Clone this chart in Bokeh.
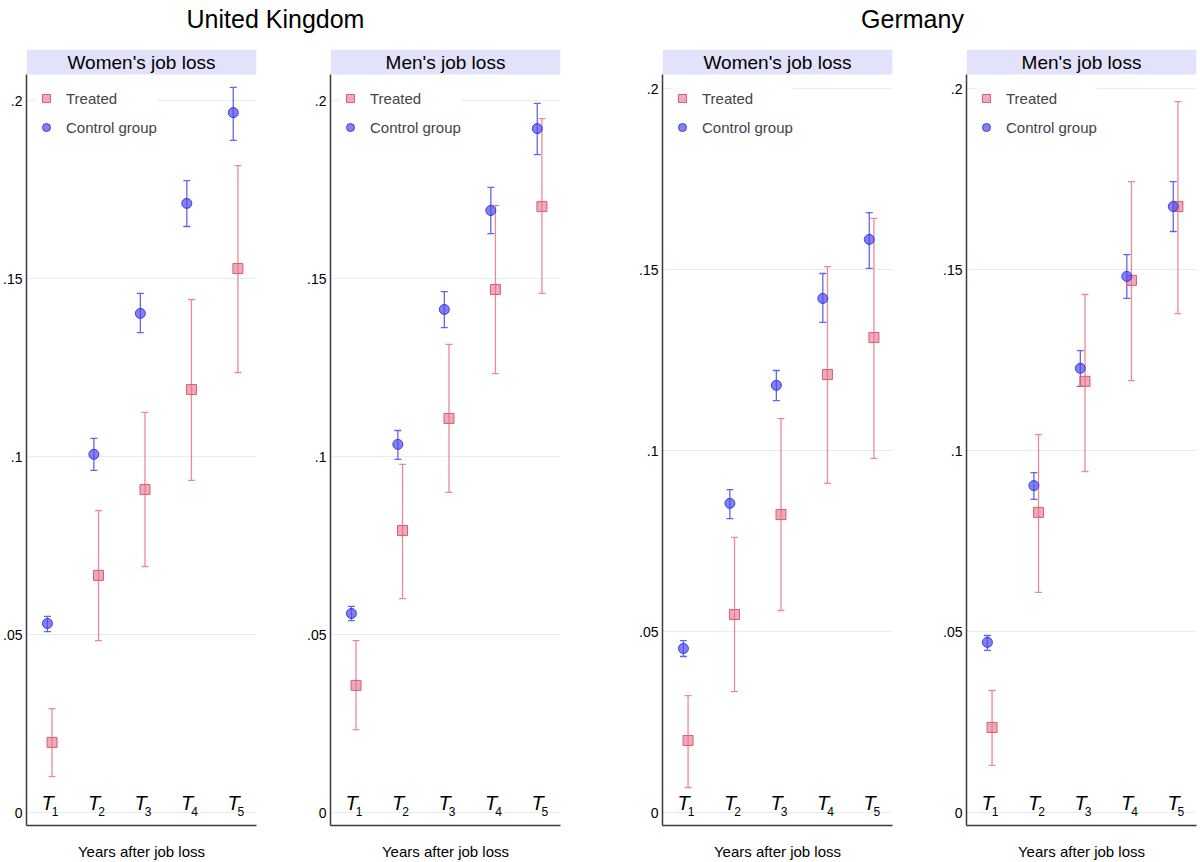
from bokeh.plotting import figure
from bokeh.models import (ColumnDataSource, Whisker, TeeHead, Legend, LegendItem,
                          FixedTicker, Range1d, CustomJSTickFormatter)
from bokeh.layouts import row, column
from bokeh.embed import file_html
from bokeh.resources import INLINE
from bokeh.core.properties import value

# ---------------- data ----------------
countries = ["United Kingdom", "Germany"]
panel_titles = ["Women's job loss", "Men's job loss"]
periods = [1, 2, 3, 4, 5]
period_subscripts = ["1", "2", "3", "4", "5"]
y_ticks = [0, 0.05, 0.1, 0.15, 0.2]
x_label = "Years after job loss"
legend_labels = ["Treated", "Control group"]

# United Kingdom - women's job loss
uk_w_ctrl = [0.0531, 0.1006, 0.1402, 0.1711, 0.1966]
uk_w_ctrl_lo = [0.0508, 0.0961, 0.1348, 0.1646, 0.1888]
uk_w_ctrl_hi = [0.0551, 0.1051, 0.1458, 0.1775, 0.2037]
uk_w_trt = [0.0197, 0.0666, 0.0907, 0.1188, 0.1528]
uk_w_trt_lo = [0.0101, 0.0483, 0.0691, 0.0933, 0.1236]
uk_w_trt_hi = [0.0292, 0.0848, 0.1124, 0.1441, 0.1817]

# United Kingdom - men's job loss
uk_m_ctrl = [0.0559, 0.1034, 0.1413, 0.1691, 0.1921]
uk_m_ctrl_lo = [0.0539, 0.0992, 0.1362, 0.1626, 0.1848]
uk_m_ctrl_hi = [0.0579, 0.1073, 0.1463, 0.1756, 0.1992]
uk_m_trt = [0.0357, 0.0792, 0.1107, 0.1469, 0.1702]
uk_m_trt_lo = [0.0233, 0.0601, 0.0899, 0.1233, 0.1458]
uk_m_trt_hi = [0.0483, 0.0978, 0.1315, 0.1705, 0.1949]

# Germany - women's job loss
de_w_ctrl = [0.0453, 0.0854, 0.1180, 0.1420, 0.1583]
de_w_ctrl_lo = [0.0431, 0.0812, 0.1138, 0.1354, 0.1503]
de_w_ctrl_hi = [0.0475, 0.0892, 0.1221, 0.1489, 0.1657]
de_w_trt = [0.0199, 0.0547, 0.0823, 0.1210, 0.1312]
de_w_trt_lo = [0.0069, 0.0334, 0.0558, 0.0909, 0.0978]
de_w_trt_hi = [0.0323, 0.0760, 0.1088, 0.1508, 0.1641]

# Germany - men's job loss
de_m_ctrl = [0.0470, 0.0903, 0.1227, 0.1481, 0.1674]
de_m_ctrl_lo = [0.0448, 0.0865, 0.1177, 0.1420, 0.1605]
de_m_ctrl_hi = [0.0489, 0.0939, 0.1276, 0.1541, 0.1743]
de_m_trt = [0.0235, 0.0829, 0.1191, 0.1470, 0.1674]
de_m_trt_lo = [0.0130, 0.0608, 0.0942, 0.1193, 0.1378]
de_m_trt_hi = [0.0337, 0.1044, 0.1431, 0.1743, 0.1964]

# ---------------- style ----------------
FONT = "Liberation Sans"
CTRL_FILL = "#4b4bec"
CTRL_LINE = "#3c3ce0"
CTRL_BAR = "#6464f0"
TRT_FILL = "#e8708a"
TRT_LINE = "#d55f75"
TRT_BAR = "#e98a9a"
STRIP = "#e2e2fa"
GRID = "#e3efef"
AXIS = "#3a3a3a"

FRAME_H = 776
STRIP_H = 25
BOTTOM = 35
ZERO_PX = 13        # pixels from frame bottom to y = 0
OFFSET = 0.05       # horizontal dodge between series
T_LIFT_PX = 9.5     # centre of the "T" above the zero line
SUB_LIFT_PX = 1.0   # centre of the subscript above the zero line

tick_fmt_code = """
if (tick == 0) return "0";
let s = tick.toFixed(2);
s = s.replace(/0+$/, "");
if (s.startsWith("0")) s = s.slice(1);
return s;
"""


def make_panel(title, ctrl, ctrl_lo, ctrl_hi, trt, trt_lo, trt_hi,
               px_per_unit, frame_w, left_b, right_b):
    y0 = -ZERO_PX / px_per_unit
    y1 = y0 + FRAME_H / px_per_unit
    strip_bottom = y1 - STRIP_H / px_per_unit
    x0, x1 = 0.5, 5.45

    p = figure(width=left_b + frame_w + right_b, height=FRAME_H + BOTTOM,
               frame_width=frame_w, frame_height=FRAME_H,
               x_range=Range1d(x0, x1), y_range=Range1d(y0, y1),
               min_border_left=left_b, min_border_right=right_b,
               min_border_top=0, min_border_bottom=BOTTOM,
               output_backend="svg", toolbar_location=None, tools="")
    p.outline_line_color = None
    p.background_fill_color = "white"
    p.border_fill_color = "white"

    # grid
    p.xgrid.grid_line_color = None
    p.ygrid.ticker = FixedTicker(ticks=y_ticks)
    p.ygrid.grid_line_color = GRID
    p.ygrid.grid_line_width = 1

    # y axis
    ya = p.yaxis[0]
    ya.ticker = FixedTicker(ticks=y_ticks)
    ya.formatter = CustomJSTickFormatter(code=tick_fmt_code)
    ya.major_tick_out = 0
    ya.major_tick_in = 0
    ya.minor_tick_out = 0
    ya.minor_tick_in = 0
    ya.major_label_standoff = 4
    ya.major_label_text_font = FONT
    ya.major_label_text_font_size = "14px"
    ya.major_label_text_color = "black"
    ya.axis_line_color = AXIS
    ya.axis_line_width = 1.5
    ya.bounds = (y0, strip_bottom)

    # x axis
    xa = p.xaxis[0]
    xa.ticker = FixedTicker(ticks=[])
    xa.major_tick_out = 0
    xa.major_tick_in = 0
    xa.minor_tick_out = 0
    xa.minor_tick_in = 0
    xa.major_label_text_font_size = "0px"
    xa.axis_line_color = AXIS
    xa.axis_line_width = 1.5
    xa.axis_label = x_label
    xa.axis_label_text_font = FONT
    xa.axis_label_text_font_size = "15px"
    xa.axis_label_text_font_style = "normal"
    xa.axis_label_text_color = "black"
    xa.axis_label_standoff = 17

    # header strip
    p.quad(left=[x0], right=[x1], bottom=[strip_bottom], top=[y1],
           fill_color=STRIP, line_color=None)
    p.text(x=[(x0 + x1) / 2], y=[(strip_bottom + y1) / 2], text=[title],
           text_font=value(FONT), text_font_size="19px", text_color="black",
           text_align="center", text_baseline="middle")

    xs_ctrl = [t - OFFSET for t in periods]
    xs_trt = [t + OFFSET for t in periods]
    src_c = ColumnDataSource(dict(x=xs_ctrl, y=ctrl, lo=ctrl_lo, hi=ctrl_hi))
    src_t = ColumnDataSource(dict(x=xs_trt, y=trt, lo=trt_lo, hi=trt_hi))

    for src, col in ((src_t, TRT_BAR), (src_c, CTRL_BAR)):
        w = Whisker(source=src, base="x", lower="lo", upper="hi",
                    dimension="height", line_color=col, line_width=1.3,
                    lower_head=TeeHead(size=7, line_color=col, line_width=1.3),
                    upper_head=TeeHead(size=7, line_color=col, line_width=1.3),
                    level="underlay")
        p.add_layout(w)

    r_t = p.scatter("x", "y", source=src_t, marker="square", size=10,
                    fill_color=TRT_FILL, fill_alpha=0.6,
                    line_color=TRT_LINE, line_width=1)
    r_c = p.scatter("x", "y", source=src_c, marker="circle", size=10,
                    fill_color=CTRL_FILL, fill_alpha=0.7,
                    line_color=CTRL_LINE, line_width=1)

    # period labels T_1 ... T_5 just above zero
    n = len(periods)
    p.text(x=periods, y=[T_LIFT_PX / px_per_unit] * n, text=["T"] * n,
           text_font=value(FONT), text_font_style="italic",
           text_font_size="20px", text_color="black",
           text_align="center", text_baseline="middle", x_offset=-2)
    p.text(x=periods, y=[SUB_LIFT_PX / px_per_unit] * n, text=period_subscripts,
           text_font=value(FONT), text_font_size="12px", text_color="black",
           text_align="left", text_baseline="middle", x_offset=2)

    legend = Legend(items=[LegendItem(label=legend_labels[0], renderers=[r_t]),
                           LegendItem(label=legend_labels[1], renderers=[r_c])],
                    location=(10, FRAME_H - 88), padding=10, spacing=9,
                    label_standoff=10, glyph_width=20, glyph_height=20,
                    label_text_font=FONT, label_text_font_size="15px",
                    border_line_color=None, background_fill_color="white",
                    background_fill_alpha=1.0, margin=0)
    p.add_layout(legend)
    return p


UK_PX = 178 / 0.05
DE_PX = 181 / 0.05

p1 = make_panel(panel_titles[0], uk_w_ctrl, uk_w_ctrl_lo, uk_w_ctrl_hi,
                uk_w_trt, uk_w_trt_lo, uk_w_trt_hi, UK_PX, 230, 26, 48)
p2 = make_panel(panel_titles[1], uk_m_ctrl, uk_m_ctrl_lo, uk_m_ctrl_hi,
                uk_m_trt, uk_m_trt_lo, uk_m_trt_hi, UK_PX, 230, 26, 76)
p3 = make_panel(panel_titles[0], de_w_ctrl, de_w_ctrl_lo, de_w_ctrl_hi,
                de_w_trt, de_w_trt_lo, de_w_trt_hi, DE_PX, 230, 26, 48)
p4 = make_panel(panel_titles[1], de_m_ctrl, de_m_ctrl_lo, de_m_ctrl_hi,
                de_m_trt, de_m_trt_lo, de_m_trt_hi, DE_PX, 230, 26, 2)

BANNER_W = 1198
BANNER_H = 49
banner = figure(width=BANNER_W, height=BANNER_H,
                x_range=Range1d(0, BANNER_W), y_range=Range1d(0, BANNER_H),
                min_border=0, output_backend="svg", toolbar_location=None, tools="")
banner.axis.visible = False
banner.grid.visible = False
banner.outline_line_color = None
banner.text(x=[275, 912], y=[31, 31], text=countries,
            text_font=value(FONT), text_font_size="25px", text_color="black",
            text_align="center", text_baseline="alphabetic")

layout = column(banner, row(p1, p2, p3, p4))

with open("out.html", "w") as f:
    f.write(file_html(layout, INLINE))
